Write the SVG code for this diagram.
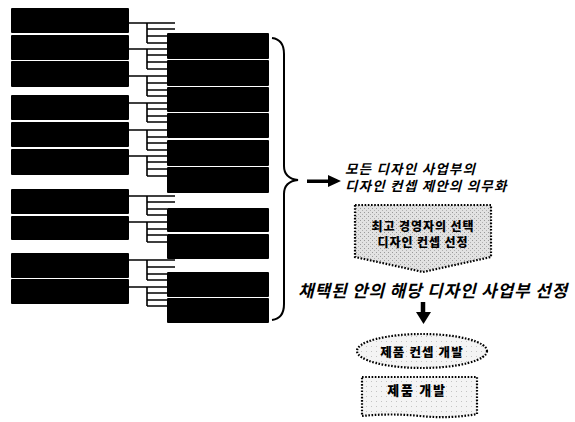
<svg xmlns="http://www.w3.org/2000/svg" width="575" height="422" viewBox="0 0 575 422">
<style>
.box{fill:#000;}
.ln{stroke:#000;stroke-width:1.6;fill:none;}
.brace{stroke:#000;stroke-width:2;fill:none;}
.it{font-family:"Noto Sans CJK KR","Noto Sans",sans-serif;font-style:italic;font-weight:bold;fill:#000;}
.lab{font-family:"Noto Sans CJK KR","Noto Sans",sans-serif;font-weight:900;fill:#000;text-anchor:middle;}
.dot{stroke:#000;stroke-width:2.2;stroke-dasharray:1.6 1.6;}
</style>
<defs>
<pattern id="stip" width="4" height="4" patternUnits="userSpaceOnUse">
<rect width="4" height="4" fill="#e2e2e2"/>
<rect x="0" y="0" width="1" height="1" fill="#9a9a9a"/>
<rect x="2" y="2" width="1" height="1" fill="#b0b0b0"/>
</pattern>
<pattern id="stip2" width="5" height="5" patternUnits="userSpaceOnUse">
<rect width="5" height="5" fill="#f4f4f4"/>
<rect x="1" y="1" width="1" height="1" fill="#c4c4c4"/>
</pattern>
</defs>
<rect width="575" height="422" fill="#fff"/>

<g id="connectors">
<path class="ln" d="M129,23H175M147,23V43M147,29H175M147,36H167M147,43H167"/>
<path class="ln" d="M129,49H167M147,49V69M147,55H167M147,62H167M147,69H167"/>
<path class="ln" d="M129,76H167M147,76V96M147,83H167M147,90H167M147,96H167"/>
<path class="ln" d="M129,103H167M147,103V122M147,109H167M147,116H167M147,122H167"/>
<path class="ln" d="M129,130H167M147,130V150M147,137H167M147,143H167M147,150H167"/>
<path class="ln" d="M129,156H167M147,156V176M147,162H167M147,169H167M147,176H167"/>
<path class="ln" d="M129,196H175M147,196V215M147,202H175M147,209H167M147,215H167"/>
<path class="ln" d="M129,222H167M147,222V242M147,229H167M147,235H167M147,242H167"/>
<path class="ln" d="M129,260H175M147,260V280M147,267H175M147,274H167M147,280H167"/>
<path class="ln" d="M129,287H167M147,287V306M147,293H167M147,300H167M147,306H167"/>
<path class="brace" d="M272,38C280,39 284,44 284,54V166C284,174 289,179 298,180C289,181 284,186 284,194V304C284,314 280,319 272,320"/>
<path d="M307,179.5H328V175L341,181L328,187V183H307Z" fill="#000"/>
<path d="M423,302V313" stroke="#000" stroke-width="4.5"/>
<path d="M416,312H431L423.5,324Z" fill="#000"/>
</g>

<g id="left-boxes">
<rect id="L1" class="box" x="11" y="8" width="118" height="25" rx="1"/>
<rect id="L2" class="box" x="11" y="35" width="118" height="25" rx="1"/>
<rect id="L3" class="box" x="11" y="61" width="118" height="26" rx="1"/>
<rect id="L4" class="box" x="11" y="95" width="118" height="25" rx="1"/>
<rect id="L5" class="box" x="11" y="122" width="118" height="25" rx="1"/>
<rect id="L6" class="box" x="11" y="149" width="118" height="26" rx="1"/>
<rect id="L7" class="box" x="11" y="189" width="118" height="25" rx="1"/>
<rect id="L8" class="box" x="11" y="216" width="118" height="24" rx="1"/>
<rect id="L9" class="box" x="11" y="253" width="118" height="25" rx="1"/>
<rect id="L10" class="box" x="11" y="279" width="118" height="25" rx="1"/>
</g>

<g id="right-boxes">
<rect id="R1" class="box" x="167" y="33" width="102" height="26" rx="1"/>
<rect id="R2" class="box" x="167" y="60" width="102" height="26" rx="1"/>
<rect id="R3" class="box" x="167" y="87" width="102" height="25" rx="1"/>
<rect id="R4" class="box" x="167" y="113" width="102" height="25" rx="1"/>
<rect id="R5" class="box" x="167" y="140" width="102" height="26" rx="1"/>
<rect id="R6" class="box" x="167" y="167" width="102" height="26" rx="1"/>
<rect id="R7" class="box" x="167" y="208" width="102" height="24" rx="1"/>
<rect id="R8" class="box" x="167" y="234" width="102" height="25" rx="1"/>
<rect id="R9" class="box" x="167" y="272" width="102" height="25" rx="1"/>
<rect id="R10" class="box" x="167" y="298" width="102" height="25" rx="1"/>
</g>

<g id="mandate">
<text class="it" font-size="13.5" letter-spacing="1.2"><tspan x="345" y="174">모든 디자인 사업부의</tspan><tspan x="345" y="190.5">디자인 컨셉 제안의 의무화</tspan></text>
</g>

<g id="selection">
<path class="dot" d="M355,205H491V257L423,272L355,257Z" fill="url(#stip)"/>
<text class="lab" font-size="12" letter-spacing="0.9"><tspan x="423" y="230.5">최고 경영자의 선택</tspan><tspan x="423" y="246.5">디자인 컨셉 선정</tspan></text>
</g>

<g id="adopted">
<text class="it" x="298" y="297" font-size="17" letter-spacing="0.8">채택된 안의 해당 디자인 사업부 선정</text>
</g>

<g id="concept-dev">
<ellipse class="dot" cx="422" cy="351" rx="65" ry="17" fill="url(#stip2)"/>
<text class="lab" x="422" y="356.5" font-size="12.5" letter-spacing="1.1">제품 컨셉 개발</text>
</g>

<g id="product-dev">
<path class="dot" d="M362,377H477V414Q450,419 420,416Q390,413 362,416Z" fill="url(#stip2)"/>
<text class="lab" x="417" y="395" font-size="13" letter-spacing="1.7">제품 개발</text>
</g>
</svg>
